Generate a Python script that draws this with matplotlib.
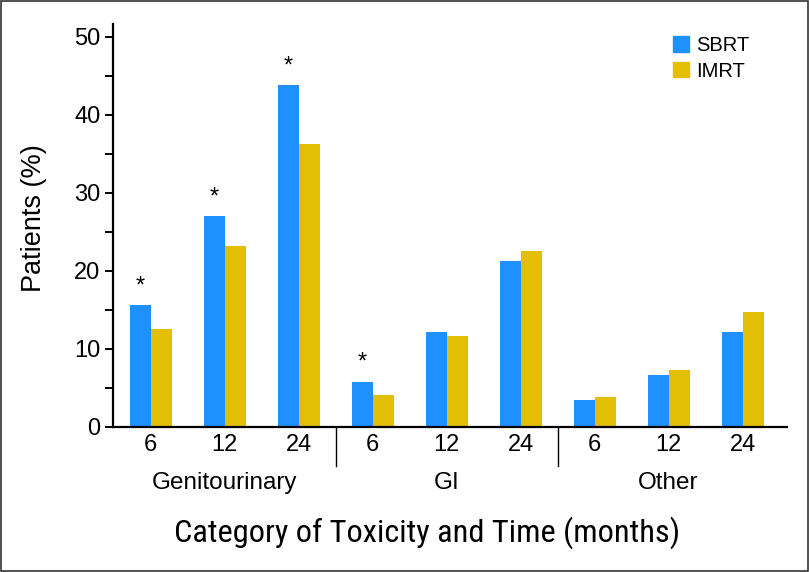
import matplotlib
matplotlib.use("Agg")
import matplotlib.pyplot as plt
import numpy as np
from matplotlib import font_manager
from matplotlib.patches import Rectangle, Patch

# data
categories = ["Genitourinary", "GI", "Other"]
months = ["6", "12", "24"]
sbrt = [15.6, 27.0, 43.8, 5.8, 12.2, 21.2, 3.5, 6.6, 12.2]
imrt = [12.6, 23.2, 36.3, 4.1, 11.6, 22.6, 3.9, 7.3, 14.7]
significant = [True, True, True, True, False, False, False, False, False]

BLUE = "#1E90FF"
GOLD = "#E2BE05"

names = {f.name for f in font_manager.fontManager.ttflist}
narrow = next((n for n in ["Roboto Condensed", "Archivo Narrow", "PT Sans Narrow",
                           "Open Sans Condensed"] if n in names), "DejaVu Sans")
plt.rcParams["font.family"] = ["Liberation Sans", "DejaVu Sans"]

fig = plt.figure(figsize=(8.09, 5.72), dpi=100)
ax = fig.add_axes([0.1397, 0.2535, 0.8331, 0.7045])

x = np.arange(len(sbrt))
w = 0.284
ax.bar(x - w / 2, sbrt, w, color=BLUE, label="SBRT")
ax.bar(x + w / 2, imrt, w, color=GOLD, label="IMRT")

# significance stars
for xi, v, s in zip(x, sbrt, significant):
    if s:
        ax.annotate("*", (xi - w / 2, v), xytext=(0, 13.5), textcoords="offset points",
                    ha="center", va="center", fontsize=17)

ax.set_xlim(-0.51, 8.6)
ax.set_ylim(0, 51.6)

ax.set_yticks([0, 10, 20, 30, 40, 50])
ax.set_yticks([5, 15, 25, 35, 45], minor=True)
ax.tick_params(axis="y", which="both", length=6, width=1.4, direction="out",
               labelsize=17, pad=3)
ax.set_xticks(x)
ax.set_xticklabels(months * len(categories))
ax.tick_params(axis="x", length=0, labelsize=17, pad=5)

for side in ["top", "right"]:
    ax.spines[side].set_visible(False)
for side in ["left", "bottom"]:
    ax.spines[side].set_linewidth(1.6)

# group dividers and category names
trans = ax.get_xaxis_transform()
for d in [2.5, 5.5]:
    ax.plot([d, d], [0, -0.097], transform=trans, color="black", lw=1.0, clip_on=False)
for i, c in enumerate(categories):
    ax.text(3 * i + 1, -0.139, c, transform=trans, ha="center", va="center", fontsize=17.5)

fig.text(427.5 / 809, 1 - 533 / 572, "Category of Toxicity and Time (months)",
         ha="center", va="center", fontsize=23.3, family=[narrow, "DejaVu Sans"])
fig.text(0.042, 0.618, "Patients (%)", rotation=90, ha="center", va="center", fontsize=19.5)

handles = [Patch(color=BLUE), Patch(color=GOLD)]
fig.legend(handles, ["SBRT", "IMRT"], loc="upper left", bbox_to_anchor=(673 / 809, 1 - 36 / 572),
           frameon=False, fontsize=14.5, handlelength=0.8, handleheight=0.8,
           handletextpad=0.35, labelspacing=0.33, borderpad=0, borderaxespad=0)

# thin frame around the figure
fig.patches.append(Rectangle((0.001, 0.001), 0.998, 0.998, transform=fig.transFigure,
                             fill=False, edgecolor="#333333", lw=1.2))

fig.savefig("out.png", dpi=100)
